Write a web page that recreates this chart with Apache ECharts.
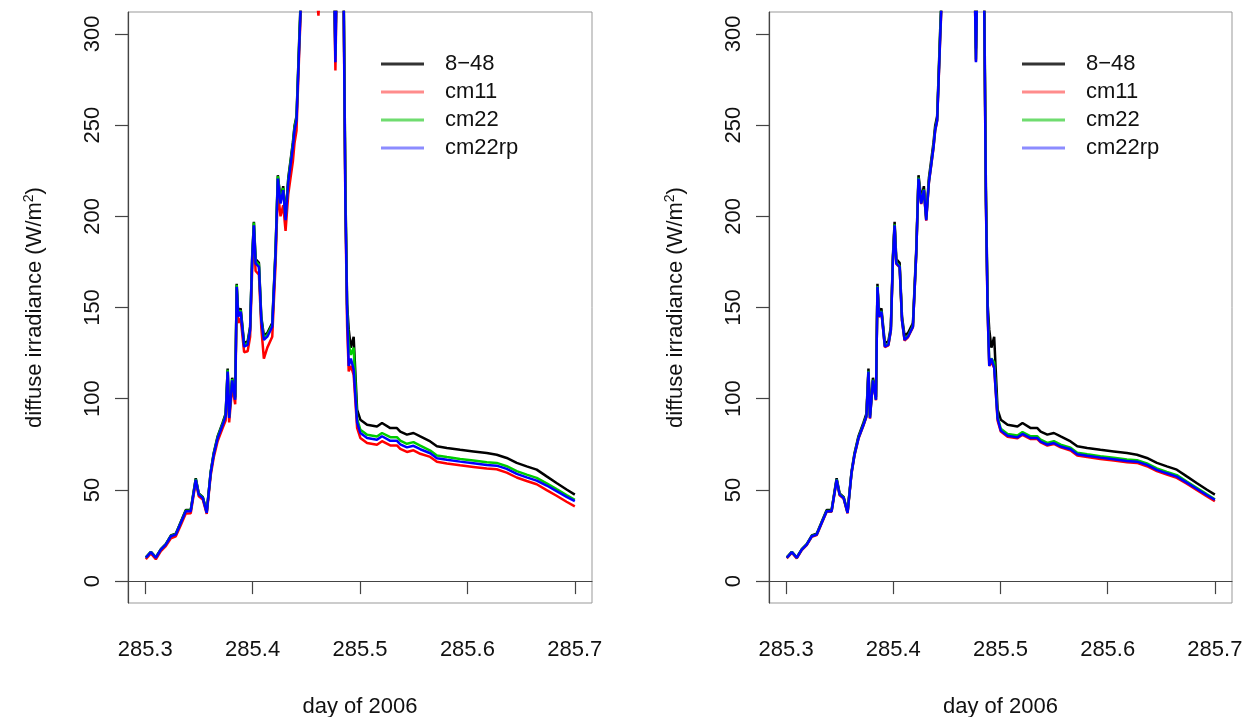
<!DOCTYPE html>
<html><head><meta charset="utf-8">
<script src="https://cdn.jsdelivr.net/npm/echarts@6.0.0/dist/echarts.min.js"></script>
<style>html,body{margin:0;padding:0;background:#fff}#c{width:1252px;height:717px}</style>
</head><body><div id="c"></div>
<script>
// day of 2006 (shared sample times)
const days = [285.3006,285.3053,285.3099,285.3146,285.3192,285.3239,285.3285,285.3332,285.3378,285.3424,
285.3471,285.3499,285.3536,285.3573,285.3610,285.3638,285.3675,285.3722,285.3749,285.3768,
285.3782,285.3810,285.3838,285.3852,285.3866,285.3889,285.3921,285.3954,285.3977,285.3996,
285.4012,285.4028,285.4059,285.4081,285.4105,285.4137,285.4183,285.4214,285.4235,285.4260,
285.4285,285.4307,285.4332,285.4353,285.4375,285.4390,285.4409,285.4437,285.4465,285.4520,
285.4613,285.4688,285.4753,285.4771,285.4790,285.4818,285.4848,285.4864,285.4880,285.4895,
285.4915,285.4941,285.4973,285.5003,285.5066,285.5158,285.5205,285.5282,285.5344,285.5375,
285.5437,285.5498,285.5561,285.5654,285.5716,285.5809,285.5932,285.6056,285.6180,285.6273,
285.6366,285.6459,285.6552,285.6645,285.6738,285.6830,285.6923,285.7000];

// 8-48 (same in both panels)
const s848 = [13.0,16.0,13.0,17.5,20.3,25.0,26.0,32.6,39.0,39.0,56.4,48.0,46.2,38.0,60.0,70.2,79.5,87.0,91.8,116.5,
91.0,111.5,101,163,147,149.5,130.5,131.5,139.5,178,197,176.5,174.5,145,134.5,136,141.5,182,222.5,209.5,
216.5,200,221,230.5,240.5,249.5,255,
302,345,385,340,395,355,292,365,405,325,215,152,138,128,134,94,
88.5,85.7,84.8,86.7,83.9,83.9,82.0,80.3,81.2,79.3,76.6,73.9,73.0,72.0,71.1,70.2,69.3,67.5,64.8,62.9,61.1,57.4,53.8,50.2,47.4];

// left panel
const cm11L = [12.0,15.2,12.0,16.5,19.2,23.5,24.6,30.8,37.0,37.2,54.5,46.5,44.8,36.8,58.0,67.8,76.8,84.0,88.0,111.5,
87.0,107,97,157,141.5,144,125.5,126,134,171,190,170,168,139,122,128,134,174,214,200,
206,192,212,221,230,240,247,
295,335,375,310,385,345,280,355,395,315,205,140,115,118,113,84,
78.5,75.7,74.8,76.7,74.4,74.4,72.5,70.8,71.7,69.8,68.1,65.4,64.5,63.5,62.6,61.7,61.3,59.5,56.8,54.9,53.1,49.9,46.8,43.5,41.0];
const cm22L = [12.9,16.0,13.0,17.4,20.2,24.8,25.8,32.3,38.6,38.7,56.0,47.8,46.0,37.8,59.8,69.8,79.0,86.4,91.0,115.8,
90.2,110.8,100.2,162.5,146,148.5,129.5,130.5,138.5,177,196.5,175.5,173.5,144,133.5,135,140.5,181,222,208.5,
215.5,199,220,229.5,239.5,248.5,254,
300,342,382,338,392,352,288,362,402,322,212,150,130,124,128,89,
83.0,80.2,79.3,81.2,78.9,78.9,77.0,75.3,76.2,74.3,71.6,68.9,68.0,67.0,66.1,65.2,64.8,63.0,60.3,58.4,56.6,53.6,50.4,47.2,44.6];
const cm22rpL = [12.8,15.9,12.8,17.3,20.0,24.6,25.5,32.0,38.3,38.3,55.6,47.4,45.6,37.4,59.3,69.3,78.4,85.7,90.3,114.9,
89.4,110,99.4,161.4,145,147.7,128.6,129.5,137.7,176,195.1,174.2,172.3,143,132.2,134,139.5,179.6,220.7,207,
214.3,197.9,218.8,228,238,247,252.6,
298,340,380,335,390,350,284.5,360,400,318,208,148,118,122,116,87,
81.2,78.4,77.5,79.4,76.9,76.9,75.0,73.3,74.2,72.3,70.1,67.4,66.5,65.5,64.6,63.7,63.3,61.5,58.8,56.9,55.1,52.4,49.3,46.2,43.8];

// right panel
const cm11R = [12.5,15.6,12.5,17.0,19.7,24.3,25.2,31.7,38.0,38.0,55.3,47.1,45.3,37.1,59.0,69.0,78.1,85.4,90.0,114.6,
89.1,109.7,99.1,161.1,144.7,147.4,128.3,129.2,137.4,175.7,194.8,173.9,172.0,142.7,131.9,133.7,139.2,179.3,220.4,206.7,
214.0,197.6,218.5,227.7,237.7,246.7,252.3,
297,338,378,333,388,348,285,358,398,316,206,147,118,120,117,88,
82.0,79.2,78.3,80.2,77.9,77.9,76.0,74.3,75.2,73.3,71.6,68.9,68.0,67.0,66.1,65.2,64.8,63.0,60.3,58.4,56.6,53.4,50.0,46.6,43.8];
const cm22R = [12.9,16.0,12.9,17.4,20.1,24.7,25.6,32.2,38.5,38.5,55.8,47.6,45.8,37.6,59.5,69.5,78.7,86.0,90.6,115.3,
89.7,110.4,99.7,161.8,145.4,148.1,129.0,129.9,138.1,176.5,195.6,174.6,172.7,143.4,132.6,134.4,139.9,180.1,221.2,207.4,
214.7,198.3,219.3,228.5,238.5,247.5,253.1,
300,342,382,337,392,352,286,362,402,320,210,150,120,122,120,90,
83.5,80.7,79.8,81.7,79.4,79.4,77.5,75.8,76.7,74.8,73.1,70.4,69.5,68.5,67.6,66.7,66.3,64.5,61.8,59.9,58.1,54.6,51.2,47.7,44.9];
const cm22rpR = [12.8,15.9,12.8,17.3,20.0,24.6,25.5,32.0,38.3,38.3,55.6,47.4,45.6,37.4,59.3,69.3,78.4,85.7,90.3,114.9,
89.4,110,99.4,161.4,145,147.7,128.6,129.5,137.7,176,195.1,174.2,172.3,143,132.2,134,139.5,179.6,220.7,207,
214.3,197.9,218.8,228,238,247,252.6,
298,340,380,335,390,350,284.5,360,400,318,208,148,118,122,117,89,
82.5,79.7,78.8,80.7,78.4,78.4,76.5,74.8,75.7,73.8,72.3,69.6,68.7,67.7,66.8,65.9,65.5,63.7,61.0,59.1,57.3,54.0,50.6,47.2,44.6];

const xTicks = [285.3,285.4,285.5,285.6,285.7];
const yTicks = [0,50,100,150,200,250,300];
const names = ['8\u221248','cm11','cm22','cm22rp'];
const colors = ['#000000','#ff0000','#00cd00','#0000ff'];
const legendColors = ['#333333','#ff8c8c','#6fdc6f','#8c8cff'];
const FONT = 'Liberation Sans, Arial, Helvetica, sans-serif';

const panels = [
  [s848, cm11L, cm22L, cm22rpL],
  [s848, cm11R, cm22R, cm22rpR]
];
const gridLefts = [128, 769];

function xAxisFor(i) {
  return {
    gridIndex: i, type: 'value', min: 285.284, max: 285.716,
    splitLine: {show: false},
    axisLine: {show: true, lineStyle: {color: '#444', width: 1.2}},
    axisTick: {show: true, customValues: xTicks, length: 13, lineStyle: {color: '#444', width: 1.2}},
    axisLabel: {customValues: xTicks, formatter: v => Number(v).toFixed(1), fontSize: 22, color: '#111', fontFamily: FONT, margin: 36},
    name: 'day of 2006', nameLocation: 'middle', nameGap: 93,
    nameTextStyle: {fontSize: 22, color: '#111', fontFamily: FONT}
  };
}
function yAxisFor(i) {
  return {
    gridIndex: i, type: 'value', min: -12, max: 312,
    splitLine: {show: false},
    axisLine: {show: true, lineStyle: {color: '#444', width: 1.2}},
    axisTick: {show: true, customValues: yTicks, length: 13, lineStyle: {color: '#444', width: 1.2}},
    axisLabel: {customValues: yTicks, rotate: 90, fontSize: 22, color: '#111', fontFamily: FONT, margin: 24},
    name: 'diffuse irradiance (W/m{sup|2})', nameLocation: 'middle', nameGap: 80, nameRotate: 90,
    nameTextStyle: {fontSize: 22, color: '#111', fontFamily: FONT,
      rich: {sup: {fontSize: 14, color: '#111', fontFamily: FONT, padding: [0, 0, 12, 0]}}}
  };
}

const series = [];
panels.forEach((p, gi) => {
  p.forEach((vals, k) => {
    series.push({
      name: names[k], type: 'line', xAxisIndex: gi, yAxisIndex: gi,
      data: days.map((d, j) => [d, vals[j]]),
      showSymbol: false, symbol: 'none', clip: true,
      lineStyle: {color: colors[k], width: 2.5},
      itemStyle: {color: colors[k]},
      emphasis: {disabled: true}
    });
  });
});

const legends = gridLefts.map((gl, gi) => ({
  orient: 'vertical', left: gl + 253, top: 53, padding: 0,
  icon: 'rect', itemWidth: 43, itemHeight: 3, itemGap: 6,
  selectedMode: false,
  data: names.map((n, k) => ({name: n, itemStyle: {color: legendColors[k]}})),
  textStyle: {fontSize: 22, color: '#111', fontFamily: FONT, padding: [0, 0, 0, 16]}
}));

const gridBase = {top: 12, height: 591, show: true, borderColor: '#999', borderWidth: 1,
  backgroundColor: 'transparent', containLabel: false, outerBoundsMode: 'none'};

const chart = echarts.init(document.getElementById('c'), null, {renderer: 'canvas'});
chart.setOption({
  backgroundColor: '#ffffff',
  animation: false,
  grid: [
    Object.assign({}, gridBase, {left: 128, width: 464}),
    Object.assign({}, gridBase, {left: 769, width: 463})
  ],
  xAxis: [xAxisFor(0), xAxisFor(1)],
  yAxis: [yAxisFor(0), yAxisFor(1)],
  legend: legends,
  series: series
});
</script></body></html>
